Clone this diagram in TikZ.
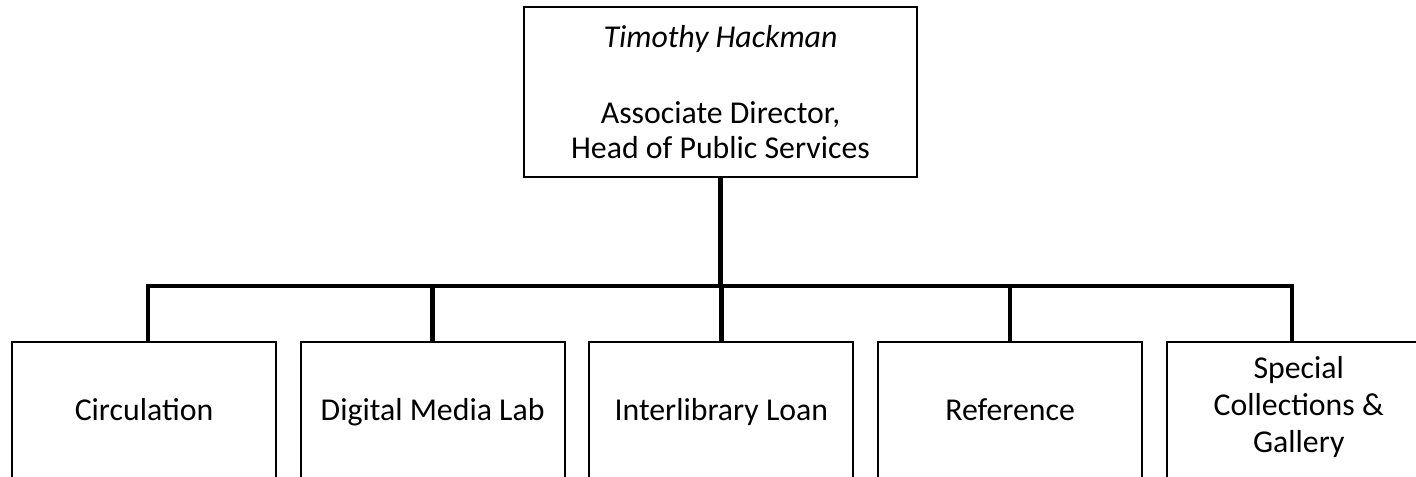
\documentclass[tikz,border=0pt]{standalone}
\usepackage{fontspec}
\setmainfont{Carlito}
\usetikzlibrary{positioning}

\begin{document}
\begin{tikzpicture}[
  headbox/.style={draw, line width=1.1pt, minimum width=7.86cm, minimum height=3.4cm,
    align=center, inner sep=0pt, font=\fontsize{18.1pt}{19.9pt}\selectfont},
  unitbox/.style={draw, line width=1.1pt, minimum width=5.28cm, minimum height=2.72cm,
    align=center, inner sep=0pt, font=\fontsize{18.1pt}{20.9pt}\selectfont,
    execute at begin node=\rule{0pt}{18pt}, execute at end node=\strut},
  link/.style={line width=2.5pt}
]
  % Frame of the chart
  \useasboundingbox (0,0) rectangle (28.32,9.52);
  \clip (0,0) rectangle (28.32,9.52);

  % Head of public services
  \node[headbox] (head) at (14.41,7.68)
    {\textit{Timothy Hackman}\\[23.3pt] Associate Director,\\ Head of Public Services};

  % Departments
  \node[unitbox] (circ) at (2.88,1.32) {Circulation};
  \node[unitbox, right=0.455cm of circ] (dml) {Digital Media Lab};
  \node[unitbox, right=0.455cm of dml] (ill) {Interlibrary Loan};
  \node[unitbox, right=0.455cm of ill] (refdesk) {Reference};
  \node[unitbox, right=0.455cm of refdesk] (spec) {Special\\ Collections \&\\ Gallery};

  % Connectors
  \coordinate (bus) at (14.41,3.8);
  \draw[link] (head.south) -- (bus);
  \draw[link] ([xshift=0.8mm]circ.north) |- (bus) -| ([xshift=-1.4mm]spec.north);
  \draw[link] (dml.north) -- (dml.north |- bus);
  \draw[link] (ill.north) -- (ill.north |- bus);
  \draw[link] (refdesk.north) -- (refdesk.north |- bus);
\end{tikzpicture}
\end{document}
